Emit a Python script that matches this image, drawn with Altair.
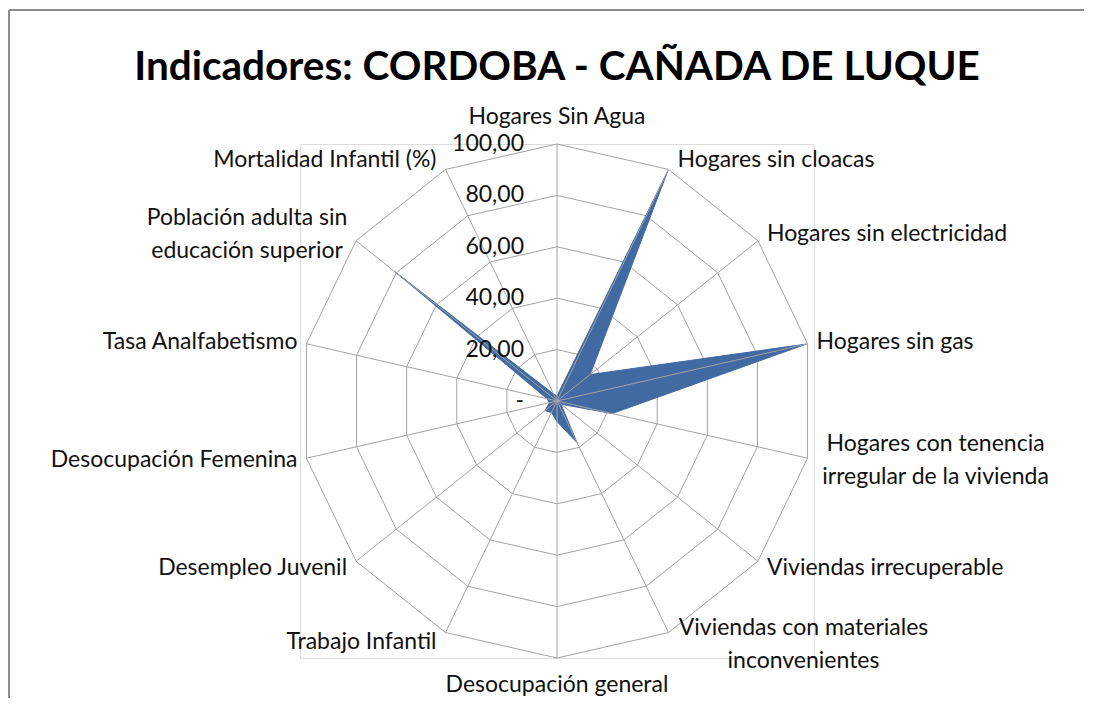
import altair as alt
import pandas as pd

# ---------------- data ----------------
categories = [
    "Hogares Sin Agua",
    "Hogares sin cloacas",
    "Hogares sin electricidad",
    "Hogares sin gas",
    "Hogares con tenencia\nirregular de la vivienda",
    "Viviendas irrecuperable",
    "Viviendas con materiales\ninconvenientes",
    "Desocupación general",
    "Trabajo Infantil",
    "Desempleo Juvenil",
    "Desocupación Femenina",
    "Tasa Analfabetismo",
    "Población adulta  sin\neducación superior",
    "Mortalidad Infantil (%)",
]
values = [2, 99.5, 16.5, 99.5, 22, 2, 18, 8, 5, 6, 3, 4, 81, 3]
ring_levels = [20, 40, 60, 80, 100]
tick_values = [0, 20, 40, 60, 80, 100]
tick_labels = ["-\u2007", "20,00", "40,00", "60,00", "80,00", "100,00"]
title_text = "Indicadores: CORDOBA - CAÑADA DE LUQUE"

# ---------------- tables ----------------
n = len(categories)
cat_df = pd.DataFrame({"cat": categories, "val": values, "i": list(range(n))})
ring_df = pd.DataFrame(
    [{"level": lv, "i": i} for lv in ring_levels for i in range(n)]
)
tick_df = pd.DataFrame({"tv": tick_values, "tl": tick_labels})

BLUE = "#4169A2"
GRID = "#a3a3a3"
FONT = "Lato"
SIZE = 23

theta = f"datum.i * 2 * PI / {n}"
scale = alt.Scale(domain=[-100, 100], nice=False, zero=False)


def X(f):
    return alt.X(f, type="quantitative", scale=scale, axis=None)


def Y(f):
    return alt.Y(f, type="quantitative", scale=scale, axis=None)


base_cat = alt.Chart(cat_df).transform_calculate(
    theta=theta,
    px=f"datum.val * sin({theta})",
    py=f"datum.val * cos({theta})",
    ex=f"100 * sin({theta})",
    ey=f"100 * cos({theta})",
    ly=f"104 * cos({theta})",
    zero="0",
)

rings = (
    alt.Chart(ring_df)
    .transform_calculate(
        px=f"datum.level * sin({theta})",
        py=f"datum.level * cos({theta})",
    )
    .mark_line(interpolate="linear-closed", stroke=GRID, strokeWidth=1)
    .encode(x=X("px"), y=Y("py"), detail="level:N", order=alt.Order("i:Q"))
)

poly = base_cat.mark_line(
    interpolate="linear-closed", fill=BLUE, stroke=BLUE, strokeWidth=1
).encode(x=X("px"), y=Y("py"), order=alt.Order("i:Q"))

spokes = base_cat.mark_rule(stroke=GRID, strokeWidth=1).encode(
    x=X("zero"), y=Y("zero"), x2=alt.X2("ex"), y2=alt.Y2("ey")
)

ticks = alt.Chart(tick_df).transform_calculate(zero="0").mark_text(
    align="right", baseline="middle", dx=-33, font=FONT, fontSize=SIZE, color="#111"
).encode(x=X("zero"), y=Y("tv"), text="tl:N")


def label_layer(idx, **kw):
    props = dict(baseline="middle", font=FONT, fontSize=SIZE, color="#111",
                 lineBreak="\n", lineHeight=33)
    props.update(kw)
    return (
        base_cat.transform_filter(alt.FieldOneOfPredicate(field="i", oneOf=idx))
        .mark_text(**props)
        .encode(x=X("ex"), y=Y("ly"), text="cat:N")
    )


lab_right = label_layer([1, 2, 3, 5], align="left", dx=9)
lab_left = label_layer([8, 9, 10, 11, 13], align="right", dx=-9)
lab_top = label_layer([0], align="center", dy=-17)
lab_bottom = label_layer([7], align="center", dy=17)
lab_ten = label_layer([4], align="center", dx=128, dy=-16)
lab_mat = label_layer([6], align="center", dx=135, dy=-14)
lab_pob = label_layer([12], align="center", dx=-109, dy=-16)

border_top = alt.Chart(cat_df.head(1)).mark_rule(stroke="#8c8c8c", strokeWidth=2).encode(
    x=alt.value(-291), x2=alt.value(800), y=alt.value(-134)
)
border_left = alt.Chart(cat_df.head(1)).mark_rule(stroke="#8c8c8c", strokeWidth=2).encode(
    x=alt.value(-291), y=alt.value(-134), y2=alt.value(600)
)

chart = (
    alt.layer(
        border_top, border_left, rings, poly, spokes, ticks,
        lab_right, lab_left, lab_top, lab_bottom, lab_ten, lab_mat, lab_pob,
    )
    .properties(
        width=514,
        height=514,
        autosize=alt.AutoSizeParams(type="none"),
        padding={"left": 292, "top": 136, "right": 270, "bottom": 40},
        title=alt.TitleParams(
            title_text,
            font=FONT,
            fontSize=40.5,
            fontWeight="bold",
            anchor="middle",
            frame="group",
            offset=0,
            dy=111,
            baseline="alphabetic",
            color="#000",
        ),
    )
    .configure_view(stroke=None)
    .configure(background="white")
)

chart.save("out.html", embed_options={"renderer": "svg", "actions": False})
